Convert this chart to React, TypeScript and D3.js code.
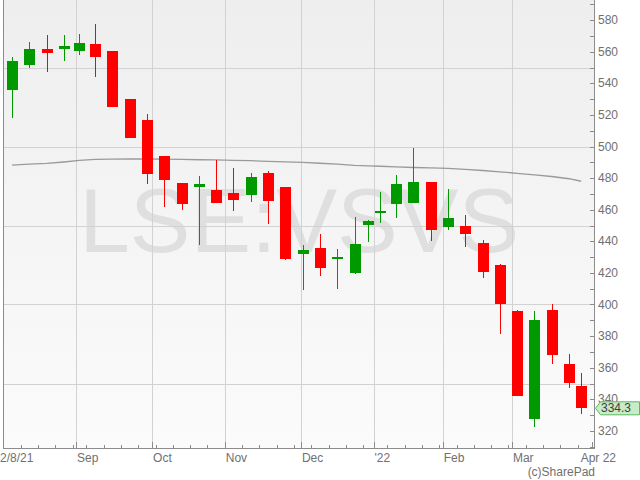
import React from 'react';
import * as d3 from 'd3';

const symbol = 'LSE:VSVS';
const credit = '(c)SharePad';
const lastPrice = 334.3;

const weekStarts = [
  '2021-08-02', '2021-08-09', '2021-08-16', '2021-08-23', '2021-08-30',
  '2021-09-06', '2021-09-13', '2021-09-20', '2021-09-27',
  '2021-10-04', '2021-10-11', '2021-10-18', '2021-10-25',
  '2021-11-01', '2021-11-08', '2021-11-15', '2021-11-22', '2021-11-29',
  '2021-12-06', '2021-12-13', '2021-12-20', '2021-12-27',
  '2022-01-03', '2022-01-10', '2022-01-17', '2022-01-24', '2022-01-31',
  '2022-02-07', '2022-02-14', '2022-02-21', '2022-02-28',
  '2022-03-07', '2022-03-14', '2022-03-21', '2022-03-28',
];
const opens = [535.8, 551.6, 561.5, 561.7, 560.4, 564.7, 560.3, 530.0, 516.7, 494.0, 477.0, 474.6, 472.6, 470.7, 469.0, 483.3, 474.4, 431.7, 436.0, 428.6, 419.7, 450.3, 458.0, 463.3, 464.5, 477.6, 448.8, 449.8, 439.1, 425.2, 395.6, 327.4, 396.8, 362.2, 348.5];
const highs = [556.5, 565.9, 570.3, 570.3, 571.0, 577.3, 560.5, 530.2, 520.5, 494.2, 477.2, 481.4, 491.5, 486.2, 483.3, 484.5, 474.6, 437.7, 444.8, 435.3, 455.3, 453.2, 470.9, 482.0, 499.0, 477.8, 473.2, 456.8, 441.0, 425.4, 396.7, 395.6, 400.6, 368.9, 356.9];
const lows = [517.8, 550.0, 547.4, 554.4, 557.9, 544.0, 525.0, 505.4, 476.1, 461.6, 460.1, 437.4, 464.3, 459.3, 464.8, 450.9, 428.4, 409.3, 417.9, 409.9, 419.5, 439.6, 451.5, 454.5, 464.3, 440.2, 447.1, 436.6, 416.6, 381.5, 342.0, 322.6, 362.6, 347.4, 330.4];
const closes = [553.9, 561.5, 559.2, 563.4, 565.3, 556.7, 525.1, 505.6, 482.8, 479.0, 463.9, 476.3, 464.5, 466.4, 480.8, 465.2, 428.6, 434.5, 422.9, 430.1, 438.5, 453.0, 459.3, 476.3, 477.6, 446.9, 454.9, 444.4, 420.4, 400.4, 342.2, 390.5, 367.8, 350.3, 334.3];
const movingAvg = [488.2, 488.8, 489.3, 490.2, 491.2, 491.9, 492.0, 492.1, 492.1, 492.0, 491.8, 491.6, 491.5, 491.2, 491.0, 490.6, 490.3, 490.0, 489.4, 488.8, 488.1, 487.8, 487.5, 487.1, 486.7, 486.5, 486.1, 485.5, 484.8, 484.0, 483.0, 482.0, 481.0, 479.6, 478.0];

const holidays = ['2021-08-30', '2021-12-27', '2021-12-28', '2022-01-03'];
const firstDay = '2021-08-02';
const lastDataDay = '2022-03-29';
const axisEndDay = '2022-04-01';

const monthStarts = ['2021-09-01', '2021-10-01', '2021-11-01', '2021-12-01', '2022-01-01', '2022-02-01', '2022-03-01', '2022-04-01'];
const xLabelDates = ['2021-08-02', ...monthStarts];
const xLabels = ['2/8/21', 'Sep', 'Oct', 'Nov', 'Dec', "'22", 'Feb', 'Mar', 'Apr 22'];

const yLabelTicks = d3.range(320, 581, 20);
const yMinorTicks = d3.range(310, 591, 10);
const yGridValues = [350, 400, 450, 500, 550];

const parse = d3.timeParse('%Y-%m-%d');
const fmt = d3.timeFormat('%Y-%m-%d');

const W = 640;
const H = 480;
const plotL = 3.33;
const plotR = 595;
const plotT = 0;
const plotB = 449;

export default function App() {
  const holidaySet = new Set(holidays);
  const tradingDays = d3.timeDay
    .range(parse(firstDay)!, d3.timeDay.offset(parse(axisEndDay)!, 1))
    .filter((d) => d.getDay() !== 0 && d.getDay() !== 6 && !holidaySet.has(fmt(d)));
  const tdTimes = tradingDays.map((d) => +d);
  const idxOf = (d: Date) => d3.bisectLeft(tdTimes, +d);

  const x = d3.scaleLinear().domain([0, tradingDays.length]).range([plotL, plotR]);
  const y = d3.scaleLinear().domain([320, 580]).range([430.9, 20.1]);

  const lastT = +parse(lastDataDay)!;
  const candles = weekStarts.map((ws, i) => {
    const start = parse(ws)!;
    const end = d3.timeDay.offset(start, 7);
    const idxs = tradingDays
      .map((d, k) => ({ d, k }))
      .filter(({ d }) => +d >= +start && +d < +end && +d <= lastT)
      .map(({ k }) => k);
    const a = idxs[0];
    const b = idxs[idxs.length - 1];
    return {
      cx: x((a + b + 1) / 2),
      o: opens[i], h: highs[i], l: lows[i], c: closes[i], ma: movingAvg[i],
    };
  });

  const weekTicks = weekStarts
    .concat(['2022-04-04'])
    .map((ws) => idxOf(parse(ws)!))
    .filter((k) => k < tradingDays.length)
    .map((k) => x(k));
  const monthXs = monthStarts.map((m) => x(idxOf(parse(m)!)));

  const maLine = d3
    .line<{ cx: number; ma: number }>()
    .x((d) => d.cx)
    .y((d) => y(d.ma));

  const bodyW = 11;
  const up = '#009a00';
  const down = '#ff0000';
  const axisCol = '#8c8c8c';
  const gridCol = '#d2d2d2';
  const textCol = '#707070';
  const font = 'Liberation Sans, Arial, sans-serif';

  const py = y(lastPrice);

  return (
    <svg width={W} height={H} style={{ position: 'absolute', left: 0, top: 0, background: '#fff' }} fontFamily={font}>
      <defs>
        <linearGradient id="bg" x1="0" y1="0" x2="0" y2="1">
          <stop offset="0%" stopColor="#eeeeee" />
          <stop offset="100%" stopColor="#fbfbfb" />
        </linearGradient>
        <clipPath id="plotClip">
          <rect x={plotL} y={plotT} width={plotR - plotL} height={plotB - plotT} />
        </clipPath>
      </defs>
      <rect x={plotL} y={plotT} width={plotR - plotL} height={plotB - plotT} fill="url(#bg)" />
      <text
        x={(plotL + plotR) / 2}
        y={252}
        textAnchor="middle"
        fontSize={91}
        fill="#dfdfdf"
      >
        {symbol}
      </text>
      <g shapeRendering="crispEdges">
        {yGridValues.map((v) => (
          <line key={'gy' + v} x1={plotL} x2={plotR} y1={Math.round(y(v)) + 0.5} y2={Math.round(y(v)) + 0.5} stroke={gridCol} />
        ))}
        {monthXs.slice(0, -1).map((mx, i) => (
          <line key={'gx' + i} x1={Math.round(mx) + 0.5} x2={Math.round(mx) + 0.5} y1={plotT} y2={plotB} stroke={gridCol} />
        ))}
      </g>
      <g clipPath="url(#plotClip)">
        <path d={maLine(candles) || ''} fill="none" stroke="#9a9a9a" strokeWidth={1.3} />
        <g shapeRendering="crispEdges">
          {candles.map((d, i) => {
            const col = d.c >= d.o ? up : down;
            const top = y(Math.max(d.o, d.c));
            const bot = y(Math.min(d.o, d.c));
            const cx = Math.round(d.cx);
            return (
              <g key={'c' + i}>
                <line x1={cx + 0.5} x2={cx + 0.5} y1={y(d.h)} y2={y(d.l)} stroke={col} strokeWidth={1} />
                <rect x={cx - 5} y={top} width={bodyW} height={Math.max(2, bot - top)} fill={col} />
              </g>
            );
          })}
        </g>
      </g>
      <g shapeRendering="crispEdges" stroke={axisCol}>
        <line x1={3.5} x2={3.5} y1={plotT} y2={plotB} />
        <line x1={plotL} x2={plotR} y1={448.5} y2={448.5} />
        <line x1={594.5} x2={594.5} y1={plotT} y2={plotB} />
        {weekTicks.map((tx, i) => (
          <line key={'wt' + i} x1={Math.round(tx) + 0.5} x2={Math.round(tx) + 0.5} y1={445} y2={449} />
        ))}
        {monthXs.map((mx, i) => (
          <line key={'mt' + i} x1={Math.round(mx) + 0.5} x2={Math.round(mx) + 0.5} y1={442} y2={449} />
        ))}
        {yMinorTicks.map((v) => (
          <line key={'yt' + v} x1={590} x2={595} y1={Math.round(y(v)) + 0.5} y2={Math.round(y(v)) + 0.5} />
        ))}
      </g>
      <g fill={textCol} fontSize={12}>
        {yLabelTicks.map((v) => (
          <text key={'yl' + v} x={598} y={y(v)} dominantBaseline="central">
            {v}
          </text>
        ))}
        {xLabels.map((lab, i) => {
          const idx = idxOf(parse(xLabelDates[i])!);
          const lx = x(idx);
          if (i === 0) {
            return (
              <text key={'xl' + i} x={0} y={462}>
                {lab}
              </text>
            );
          }
          if (i === xLabels.length - 1) {
            return (
              <text key={'xl' + i} x={616} y={462} textAnchor="end">
                {lab}
              </text>
            );
          }
          return (
            <text key={'xl' + i} x={lx + 1} y={462}>
              {lab}
            </text>
          );
        })}
        <text x={595} y={476} textAnchor="end">
          {credit}
        </text>
      </g>
      <g>
        <path
          d={`M595.5,${py} L600.5,${py - 6.5} L639.5,${py - 6.5} L639.5,${py + 6.5} L600.5,${py + 6.5} Z`}
          fill="#c8ebc8"
          stroke="#5cb85c"
          strokeWidth={1}
        />
        <text x={601} y={py} dominantBaseline="central" fontSize={12} fill="#404040">
          {lastPrice}
        </text>
      </g>
    </svg>
  );
}
